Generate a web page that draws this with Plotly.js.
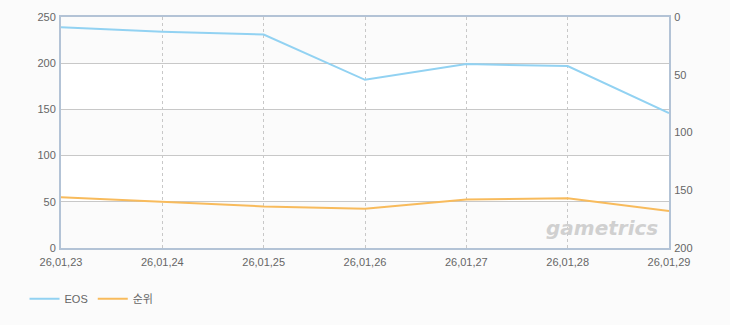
<!DOCTYPE html>
<html><head><meta charset="utf-8">
<script src="https://cdn.plot.ly/plotly-3.0.1.min.js"></script>
<style>html,body{margin:0;padding:0;background:#fbfbfb;}</style>
</head><body><div id="chart" style="width:730px;height:325px;"></div>
<script>
const dates = ['26,01,23','26,01,24','26,01,25','26,01,26','26,01,27','26,01,28','26,01,29'];
const eosValues = [239, 234, 231, 182, 199, 197, 146];
const rankValues = [156, 160, 164, 166, 158, 157, 168];
const leftTicks = [0, 50, 100, 150, 200, 250];
const rightTicks = [0, 50, 100, 150, 200];

const tickFont = {family: 'Liberation Sans, Arial, sans-serif', size: 11, color: '#666'};
const frameColor = '#b3c3d6';

const traces = [
  {x: dates, y: eosValues, name: 'EOS', type: 'scatter', mode: 'lines', yaxis: 'y',
   line: {color: '#92d2f2', width: 2}},
  {x: dates, y: rankValues, name: '순위', type: 'scatter', mode: 'lines', yaxis: 'y2',
   line: {color: '#f8bb5c', width: 2}}
];

const layout = {
  width: 730, height: 325,
  margin: {l: 60.5, r: 61, t: 16.5, b: 77},
  paper_bgcolor: '#fbfbfb', plot_bgcolor: '#fbfbfb',
  font: tickFont,
  showlegend: true,
  legend: {orientation: 'h', x: -0.06, y: -0.22, xanchor: 'left', yanchor: 'middle',
           font: {family: 'Liberation Sans, Noto Sans CJK KR, sans-serif', size: 11, color: '#666'},
           bgcolor: 'rgba(0,0,0,0)'},
  xaxis: {type: 'category', range: [0, 6], showgrid: true, gridcolor: '#c8c8c8', griddash: '3px,3px',
          gridwidth: 1, showline: true, linecolor: frameColor, linewidth: 2, mirror: true,
          ticks: '', tickfont: tickFont, ticklabelstandoff: 3, zeroline: false, fixedrange: true},
  yaxis: {range: [0, 250], tickvals: leftTicks, showgrid: true, gridcolor: '#c8c8c8', gridwidth: 1,
          showline: true, linecolor: frameColor, linewidth: 2, mirror: true, zeroline: false,
          ticks: '', tickfont: tickFont, ticklabelstandoff: 1},
  yaxis2: {range: [200, 0], tickvals: rightTicks, overlaying: 'y', side: 'right', showgrid: false,
           showline: true, linecolor: frameColor, linewidth: 2, zeroline: false,
           ticks: '', tickfont: tickFont, ticklabelstandoff: 1},
  shapes: [
    {type: 'rect', xref: 'paper', yref: 'y', x0: 0, x1: 1, y0: 50, y1: 100, fillcolor: '#ffffff', line: {width: 0}, layer: 'below'},
    {type: 'rect', xref: 'paper', yref: 'y', x0: 0, x1: 1, y0: 150, y1: 200, fillcolor: '#ffffff', line: {width: 0}, layer: 'below'}
  ],
  annotations: [
    {text: '<b><i>gametrics</i></b>', xref: 'paper', yref: 'paper', x: 0.985, y: 0.085,
     xanchor: 'right', yanchor: 'middle', showarrow: false,
     font: {family: 'DejaVu Sans, sans-serif', size: 20, color: '#d0d0d0'}}
  ]
};

Plotly.newPlot('chart', traces, layout, {displayModeBar: false, staticPlot: true});
</script>
</body></html>
